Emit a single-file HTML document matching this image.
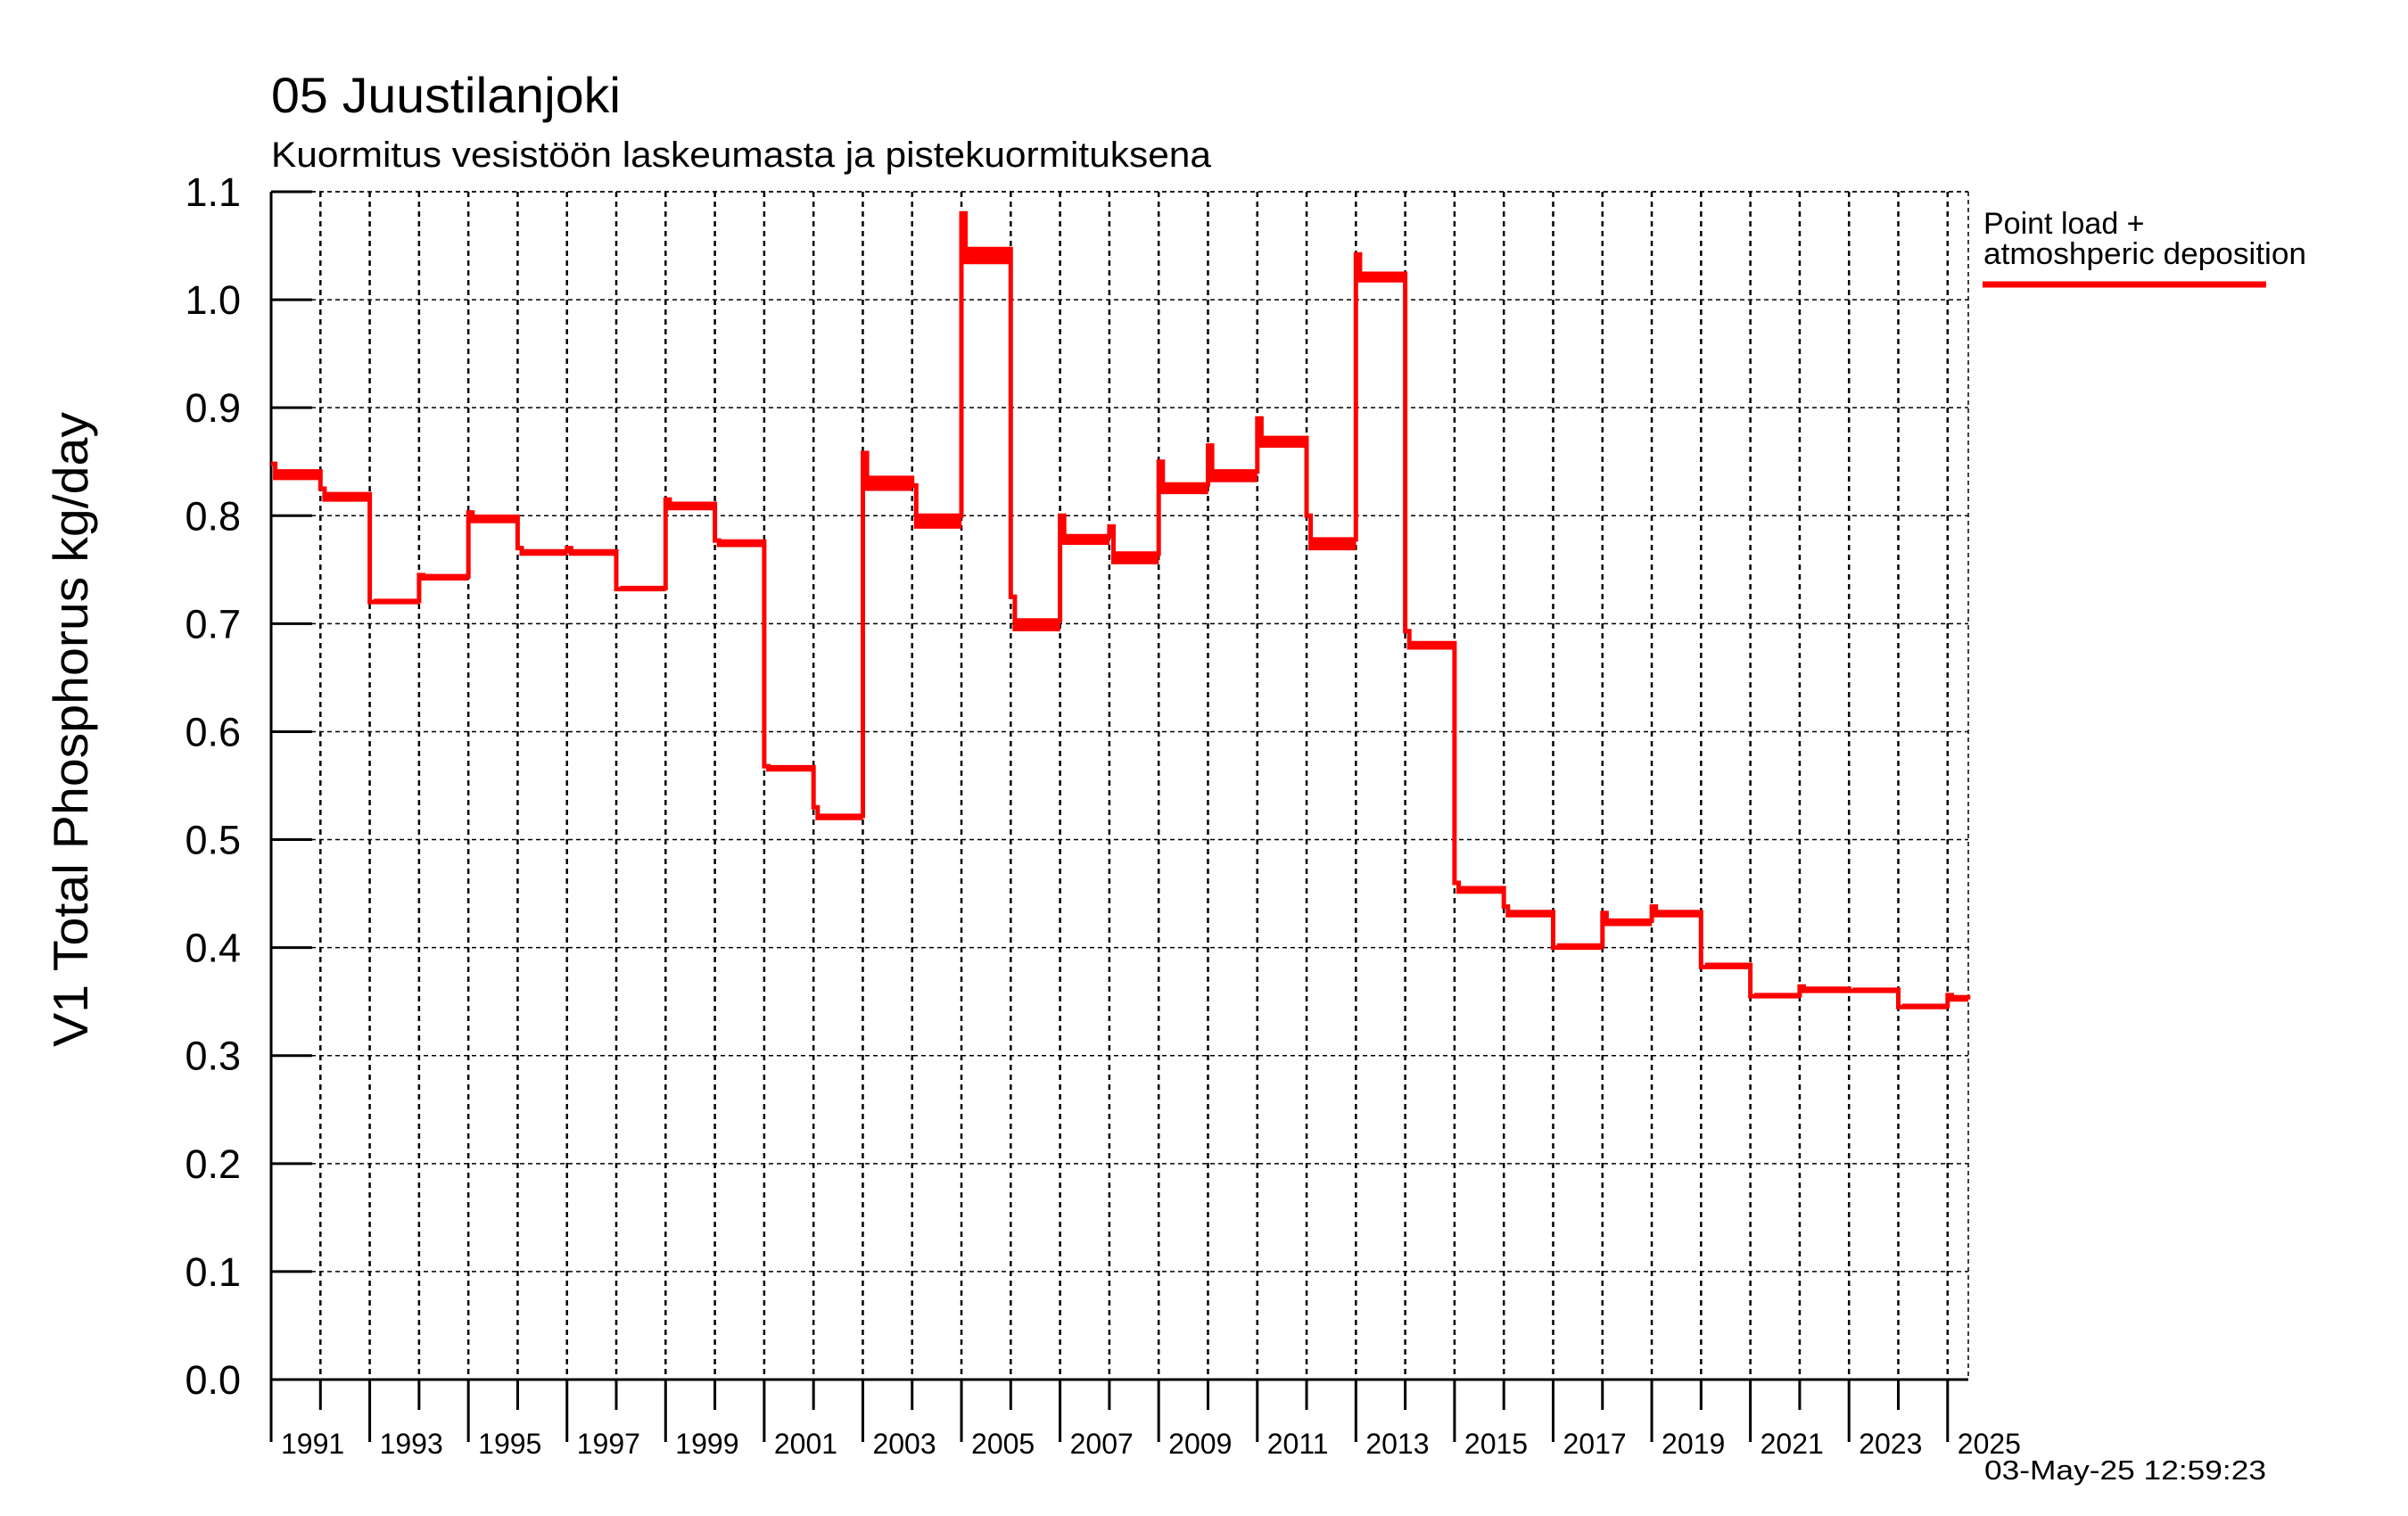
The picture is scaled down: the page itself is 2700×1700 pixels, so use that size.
<!DOCTYPE html>
<html><head><meta charset="utf-8"><style>
html,body{margin:0;padding:0;background:#fff}
svg{display:block;font-family:"Liberation Sans",Arial,sans-serif}
</style></head><body>
<svg id="chart" width="2700" height="1700" viewBox="0 0 2700 1700" xmlns="http://www.w3.org/2000/svg">
<text x="304" y="126" font-size="56" textLength="392" lengthAdjust="spacingAndGlyphs">05 Juustilanjoki</text>
<text x="304" y="187" font-size="40" textLength="1054" lengthAdjust="spacingAndGlyphs">Kuormitus vesistöön laskeumasta ja pistekuormituksena</text>
<text transform="translate(98,818) rotate(-90)" text-anchor="middle" font-size="55" textLength="712" lengthAdjust="spacingAndGlyphs">V1 Total Phosphorus kg/day</text>
<g id="grid"></g>
<g id="axes"></g>
<g id="series"></g>
<g>
<text x="2224" y="262" font-size="34">Point load +</text>
<text x="2224" y="296" font-size="34" textLength="362" lengthAdjust="spacingAndGlyphs">atmoshperic deposition</text>
<line x1="2223" y1="319" x2="2541" y2="319" stroke="#ff0000" stroke-width="7"/>
</g>
<text x="2225" y="1659" font-size="31" textLength="316" lengthAdjust="spacingAndGlyphs">03-May-25 12:59:23</text>
</svg>
<script>
const years = [1990,1991,1992,1993,1994,1995,1996,1997,1998,1999,2000,2001,2002,2003,2004,2005,2006,2007,2008,2009,2010,2011,2012,2013,2014,2015,2016,2017,2018,2019,2020,2021,2022,2023,2024];
const baseValues = [0.835,0.815,0.72,0.742,0.795,0.765,0.765,0.732,0.807,0.773,0.565,0.52,0.825,0.79,1.035,0.695,0.775,0.757,0.822,0.833,0.865,0.77,1.018,0.678,0.452,0.43,0.40,0.422,0.43,0.382,0.355,0.36,0.36,0.345,0.352];
const peakValues = [0.848,0.825,0.72,0.745,0.803,0.77,0.77,0.732,0.815,0.777,0.568,0.53,0.858,0.828,1.08,0.725,0.80,0.79,0.85,0.865,0.89,0.80,1.042,0.693,0.46,0.438,0.40,0.432,0.438,0.382,0.355,0.364,0.36,0.345,0.356];
const wiggle = [0.006,0.005,0.001,0.002,0.004,0.002,0.002,0.001,0.004,0.003,0.002,0.002,0.01,0.01,0.012,0.008,0.006,0.008,0.007,0.008,0.007,0.008,0.006,0.004,0.003,0.003,0.002,0.003,0.003,0.002,0.001,0.002,0.001,0.001,0.002];
const yTicks = [0,0.1,0.2,0.3,0.4,0.5,0.6,0.7,0.8,0.9,1.0,1.1];
const yTickLabels = ["0.0","0.1","0.2","0.3","0.4","0.5","0.6","0.7","0.8","0.9","1.0","1.1"];
const xStart = 1990, xEnd = 2024.42, yMax = 1.1;
const L=304,R=2207,T=215,B=1547;
const NS="http://www.w3.org/2000/svg";
function xS(t){return L+(t-xStart)/(xEnd-xStart)*(R-L);}
function yS(v){return B-v/yMax*(B-T);}
function mk(tag,attrs,parent){const e=document.createElementNS(NS,tag);for(const k in attrs)e.setAttribute(k,attrs[k]);parent.appendChild(e);return e;}
const grid=document.getElementById('grid'),axes=document.getElementById('axes'),series=document.getElementById('series');
yTicks.forEach((v,i)=>{
  const y=yS(v);
  if(v>0){const g=mk('line',{x1:L,x2:R,y1:y,y2:y,stroke:'#000','stroke-width':1.5,'stroke-dasharray':'5,4'},grid);
  
  }
  const t=mk('line',{x1:L,x2:L+46,y1:y,y2:y,stroke:'#000','stroke-width':3},axes);
  
  
  const lb=mk('text',{x:270,y:y+16,'text-anchor':'end','font-size':45},axes);
  lb.textContent=yTickLabels[i];
  
  
});
for(let yr=1990;yr<=2024;yr++){
  const x=xS(yr);
  if(yr>1990){const g=mk('line',{x1:x,x2:x,y1:T,y2:B,stroke:'#000','stroke-width':2.5,'stroke-dasharray':'6,5'},grid);
  
  }
  const longT=(yr%2===0);
  const t=mk('line',{x1:x,x2:x,y1:B,y2:B+(longT?70:34),stroke:'#000','stroke-width':3},axes);
  
  
  if(longT){const lb=mk('text',{x:x+11,y:1630,'font-size':32},axes);
  lb.textContent=String(yr+1);
  
  }
}
const rb=mk('line',{x1:R,x2:R,y1:T,y2:B,stroke:'#000','stroke-width':1.5,'stroke-dasharray':'5,4'},grid);


const tb=mk('line',{x1:L,x2:R,y1:T,y2:T,stroke:'#000','stroke-width':1.5,'stroke-dasharray':'5,4'},grid);


const ya=mk('line',{x1:L,x2:L,y1:T,y2:B+70,stroke:'#000','stroke-width':3},axes);


const xa=mk('line',{x1:L,x2:R,y1:B,y2:B,stroke:'#000','stroke-width':3},axes);


let d='';
years.forEach((yr,i)=>{
  for(let m=0;m<24;m++){
    const t0=yr+m/24, t1=yr+(m+1)/24;
    if(t0>=xEnd)break;
    let v;
    if(m<2)v=peakValues[i];
    else v=baseValues[i]+((m%2)?wiggle[i]:0);
    const x0=xS(t0),x1=xS(Math.min(t1,xEnd)),y=yS(v);
    d+=(d?'L':'M')+x0.toFixed(1)+','+y.toFixed(1)+'L'+x1.toFixed(1)+','+y.toFixed(1);
  }
});
const p=mk('path',{d:d,fill:'none',stroke:'#ff0000','stroke-width':5,'stroke-linejoin':'miter'},series);


</script>
</body></html>
